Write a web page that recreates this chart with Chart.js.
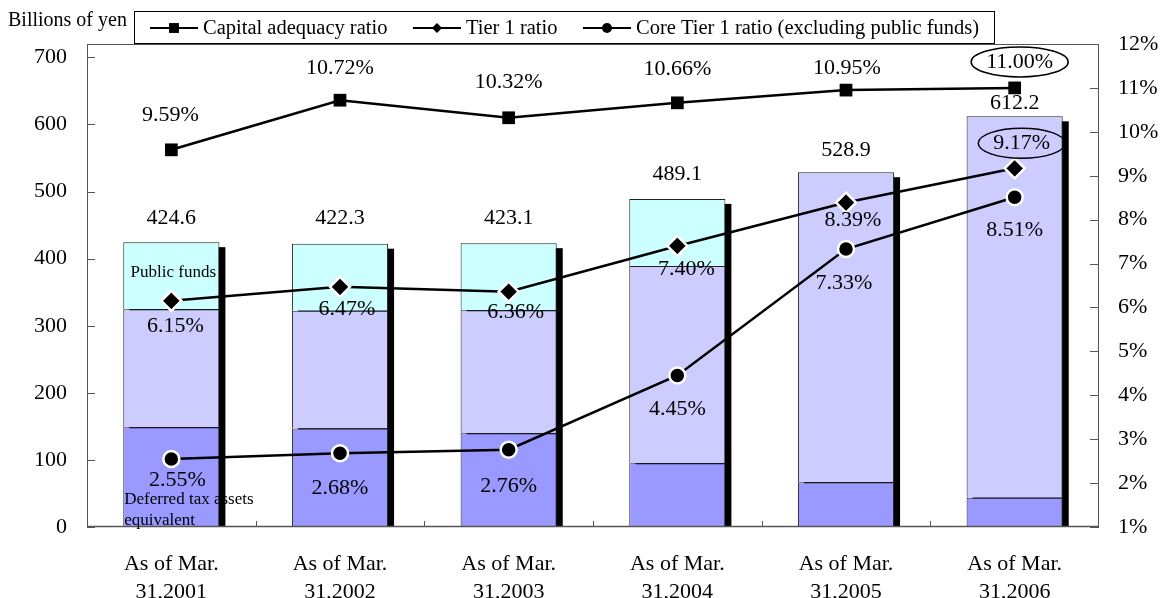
<!DOCTYPE html>
<html>
<head>
<meta charset="utf-8">
<script src="https://cdn.jsdelivr.net/npm/chart.js@4.4.1/dist/chart.umd.min.js"></script>
<style>
  html, body { margin: 0; padding: 0; background: #fff; }
  #wrap { width: 1169px; height: 598px; }
</style>
</head>
<body>
<div id="wrap"><canvas id="c" width="1169" height="598"></canvas></div>
<script>
// ---- data -------------------------------------------------------------
const categories = [
  ['As of Mar.', '31,2001'],
  ['As of Mar.', '31,2002'],
  ['As of Mar.', '31,2003'],
  ['As of Mar.', '31,2004'],
  ['As of Mar.', '31,2005'],
  ['As of Mar.', '31,2006']
];
// capital components, billions of yen
const deferredTaxAssets = [148.6, 147.0, 139.6, 95.0, 66.6, 43.7];
const otherCapital      = [176.0, 175.3, 183.5, 294.1, 462.3, 568.5];
const publicFunds       = [100, 100, 100, 100, 0, 0];
const totalCapital      = [424.6, 422.3, 423.1, 489.1, 528.9, 612.2];
// ratios, percent
const capitalAdequacyRatio = [9.59, 10.72, 10.32, 10.66, 10.95, 11.00];
const tier1Ratio           = [6.15, 6.47, 6.36, 7.40, 8.39, 9.17];
const coreTier1Ratio       = [2.55, 2.68, 2.76, 4.45, 7.33, 8.51];
// axis ticks
const yenTicks   = [0, 100, 200, 300, 400, 500, 600, 700];
const ratioTicks = [1, 2, 3, 4, 5, 6, 7, 8, 9, 10, 11, 12];

// ---- label placement (pixel offsets from the mark) ----------------------
const totalLabelOffset = [[0, -24], [0, -25], [0, -25], [0, -25], [0, -22], [0, -13]];
const carLabelOffset   = [[-1, -35], [0, -32], [0, -36], [0, -34], [1, -22], [5, -26]];
const t1LabelOffset    = [[4, 25], [7, 22], [7, 21], [9, 23], [7, 18], [7, -25]];
const coreLabelOffset  = [[6, 21], [0, 35], [0, 36], [0, 34], [-2, 34], [0, 33]];
const circledIndex = 5;

const SERIF = "'Liberation Serif', 'Times New Roman', serif";
const font = (s) => s + 'px ' + SERIF;

const decor = {
  id: 'decor',
  beforeDatasetsDraw(chart) {
    // drop shadows behind the stacked bars
    const ctx = chart.ctx;
    const y = chart.scales.y;
    const meta = chart.getDatasetMeta(3);
    const base = y.getPixelForValue(0);
    ctx.save();
    ctx.fillStyle = '#000';
    meta.data.forEach((el, i) => {
      const top = y.getPixelForValue(totalCapital[i]);
      const w = el.width;
      ctx.fillRect(el.x - w / 2 + 6, top + 5, w, base - top - 5);
    });
    ctx.restore();
  },
  afterDatasetsDraw(chart) {
    const ctx = chart.ctx;
    const a = chart.chartArea;
    const x = chart.scales.x, y = chart.scales.y, y2 = chart.scales.y2;
    ctx.save();
    // plot frame and inward tick marks
    ctx.strokeStyle = '#555';
    ctx.lineWidth = 1;
    ctx.strokeRect(a.left + 0.5, a.top + 0.5, a.right - a.left - 1, a.bottom - a.top - 1);
    ctx.lineWidth = 1.5;
    ctx.beginPath();
    ctx.moveTo(a.left, a.bottom - 0.5); ctx.lineTo(a.right, a.bottom - 0.5);
    ctx.stroke();
    ctx.lineWidth = 1;
    ctx.beginPath();
    yenTicks.forEach(v => {
      const py = Math.round(y.getPixelForValue(v)) + 0.5;
      ctx.moveTo(a.left, py); ctx.lineTo(a.left + 8, py);
    });
    ratioTicks.forEach(v => {
      const py = Math.round(y2.getPixelForValue(v)) + 0.5;
      ctx.moveTo(a.right - 9, py); ctx.lineTo(a.right, py);
    });
    for (let i = 0; i < categories.length - 1; i++) {
      const px = Math.round((x.getPixelForValue(i) + x.getPixelForValue(i + 1)) / 2) + 0.5;
      ctx.moveTo(px, a.bottom); ctx.lineTo(px, a.bottom - 6);
    }
    ctx.stroke();
    ctx.restore();
  },
  afterDraw(chart) {
    const ctx = chart.ctx;
    const y = chart.scales.y;
    const barMeta = chart.getDatasetMeta(3);
    ctx.save();
    ctx.fillStyle = '#000';
    ctx.textAlign = 'center';
    ctx.textBaseline = 'middle';
    ctx.font = font(22);

    const put = (text, px, py, circled) => {
      ctx.fillText(text, px, py);
      if (circled) {
        const w = ctx.measureText(text).width;
        ctx.beginPath();
        ctx.ellipse(px, py, w / 2 + 15, 15, 0, 0, Math.PI * 2);
        ctx.lineWidth = 1.5;
        ctx.strokeStyle = '#000';
        ctx.stroke();
      }
    };
    // totals above each stack
    barMeta.data.forEach((el, i) => {
      const o = totalLabelOffset[i];
      put(totalCapital[i].toFixed(1), el.x + o[0], y.getPixelForValue(totalCapital[i]) + o[1]);
    });
    // ratio labels
    const series = [
      [0, capitalAdequacyRatio, carLabelOffset, true],
      [1, tier1Ratio, t1LabelOffset, true],
      [2, coreTier1Ratio, coreLabelOffset, false]
    ];
    series.forEach(([di, vals, offs, circ]) => {
      chart.getDatasetMeta(di).data.forEach((pt, i) => {
        const o = offs[i];
        put(vals[i].toFixed(2) + '%', pt.x + o[0], pt.y + o[1], circ && i === circledIndex);
      });
    });

    // segment annotations on the first stack
    const pf = chart.getDatasetMeta(5).data[0];
    ctx.font = font(17);
    ctx.fillText('Public funds', pf.x + 2, (pf.y + pf.base) / 2 - 3);
    const dt = chart.getDatasetMeta(3).data[0];
    ctx.textAlign = 'left';
    ctx.fillText('Deferred tax assets', dt.x - dt.width / 2 + 1, dt.base - 27);
    ctx.fillText('equivalent', dt.x - dt.width / 2 + 1, dt.base - 6);

    // unit caption
    ctx.font = font(20);
    ctx.fillText('Billions of yen', 8, 21);

    // legend
    const lx0 = 134, ly0 = 11, lx1 = 995, ly1 = 44, ly = 28;
    ctx.fillStyle = '#fff';
    ctx.fillRect(lx0, ly0, lx1 - lx0, ly1 - ly0);
    ctx.strokeStyle = '#000';
    ctx.lineWidth = 1;
    ctx.strokeRect(lx0 + 0.5, ly0 + 0.5, lx1 - lx0 - 1, ly1 - ly0 - 1);
    const items = [
      [150, 'Capital adequacy ratio', 0],
      [413, 'Tier 1 ratio', 1],
      [583, 'Core Tier 1 ratio (excluding public funds)', 2]
    ];
    ctx.font = font(20.5);
    items.forEach(([sx, text, di]) => {
      const ds = chart.data.datasets[di];
      ctx.strokeStyle = '#000';
      ctx.lineWidth = 2;
      ctx.beginPath();
      ctx.moveTo(sx, ly); ctx.lineTo(sx + 48, ly);
      ctx.stroke();
      ctx.fillStyle = '#000';
      ctx.strokeStyle = '#000';
      ctx.lineWidth = 0;
      Chart.helpers.drawPoint(ctx, {
        pointStyle: ds.pointStyle,
        radius: ds.pointStyle === 'rect' ? 7 : 5,
        rotation: 0,
        borderWidth: 0
      }, sx + 24, ly);
      ctx.fillStyle = '#000';
      ctx.textAlign = 'left';
      ctx.fillText(text, sx + 53, ly + 1);
    });
    ctx.restore();
  }
};

const lineDs = (label, data, style, radius, bw) => ({
  type: 'line',
  label,
  data,
  yAxisID: 'y2',
  order: 0,
  borderColor: '#000',
  borderWidth: 2.5,
  tension: 0,
  fill: false,
  pointStyle: style,
  pointRadius: radius,
  pointHoverRadius: radius,
  pointBackgroundColor: '#000',
  pointBorderColor: bw > 0 ? '#fff' : '#000',
  pointBorderWidth: bw
});

const barDs = (label, data, color) => ({
  type: 'bar',
  label,
  data,
  yAxisID: 'y',
  stack: 'capital',
  order: 1,
  backgroundColor: color,
  borderColor: '#222',
  borderWidth: (c) => (c.raw ? 1 : 0),
  borderSkipped: 'start',
  barPercentage: 0.57,
  categoryPercentage: 1
});

new Chart(document.getElementById('c'), {
  data: {
    labels: categories,
    datasets: [
      lineDs('Capital adequacy ratio', capitalAdequacyRatio, 'rect', 9, 0),
      lineDs('Tier 1 ratio', tier1Ratio, 'rectRot', 10, 2.5),
      lineDs('Core Tier 1 ratio (excluding public funds)', coreTier1Ratio, 'circle', 8, 2.5),
      barDs('Deferred tax assets equivalent', deferredTaxAssets, '#9999FF'),
      barDs('Other capital', otherCapital, '#CCCCFF'),
      barDs('Public funds', publicFunds, '#CCFFFF')
    ]
  },
  options: {
    responsive: false,
    devicePixelRatio: 1,
    animation: false,
    layout: { padding: { top: 44, left: 0, right: 0, bottom: 0 } },
    plugins: { legend: { display: false }, tooltip: { enabled: false } },
    scales: {
      x: {
        stacked: true,
        offset: true,
        grid: { display: false, drawTicks: false },
        border: { display: false },
        ticks: { font: { family: SERIF, size: 22, lineHeight: 1.27 }, color: '#000', padding: 23, maxRotation: 0 },
        afterFit(s) { s.height = 71; }
      },
      y: {
        position: 'left',
        stacked: true,
        min: 0,
        max: 720,
        afterBuildTicks(s) { s.ticks = yenTicks.map(v => ({ value: v })); },
        grid: { display: false, drawTicks: false },
        border: { display: false },
        ticks: { font: { family: SERIF, size: 22 }, color: '#000', padding: 20 },
        afterFit(s) { s.width = 87; }
      },
      y2: {
        position: 'right',
        min: 1,
        max: 12,
        afterBuildTicks(s) { s.ticks = ratioTicks.map(v => ({ value: v })); },
        grid: { display: false, drawTicks: false },
        border: { display: false },
        ticks: { font: { family: SERIF, size: 22 }, color: '#000', padding: 19, callback: (v) => v + '%' },
        afterFit(s) { s.width = 70; }
      }
    }
  },
  plugins: [decor]
});
</script>
</body>
</html>
